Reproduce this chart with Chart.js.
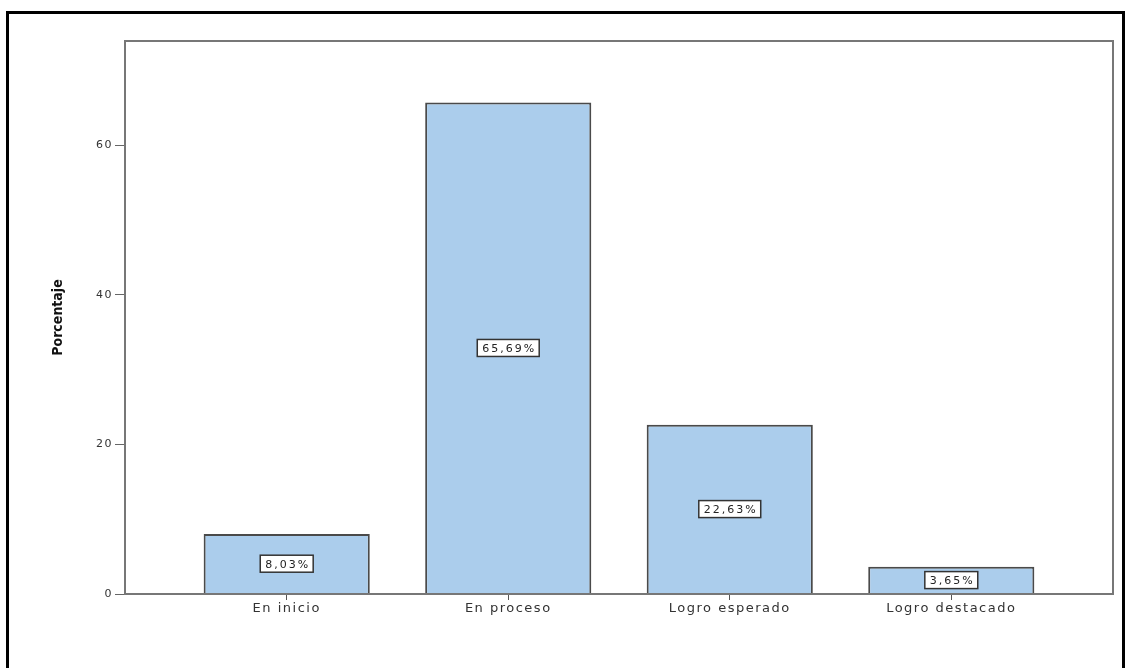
<!DOCTYPE html>
<html>
<head>
<meta charset="utf-8">
<script src="https://cdn.jsdelivr.net/npm/chart.js@4"></script>
<style>
  body { margin: 0; background: #fff; }
  .frame { position: absolute; left: 6px; top: 11px; width: 1119px; height: 700px; border: 3px solid #000; box-sizing: border-box; }
  .wrap { position: absolute; left: 0; top: 0; width: 1134px; height: 668px; }
</style>
</head>
<body>
<div class="frame"></div>
<div class="wrap"><canvas id="chart" width="1134" height="668"></canvas></div>
<script>
const categories = ['En inicio', 'En proceso', 'Logro esperado', 'Logro destacado'];
const percentages = [8.03, 65.69, 22.63, 3.65];
const yTicks = [0, 20, 40, 60];
const yTitle = 'Porcentaje';

// the old SPSS export has wide text
const spacing = {
    id: 'spacing',
    beforeDraw(chart) { chart.ctx.letterSpacing = '1.5px'; }
};

// white boxed value labels in the middle of each bar
const valueLabels = {
    id: 'valueLabels',
    afterDatasetsDraw(chart) {
        const ctx = chart.ctx;
        const meta = chart.getDatasetMeta(0);
        ctx.save();
        ctx.letterSpacing = '2px';
        ctx.font = '11px "DejaVu Sans", sans-serif';
        ctx.textAlign = 'center';
        ctx.textBaseline = 'middle';
        meta.data.forEach((bar, i) => {
            const text = percentages[i].toFixed(2).replace('.', ',') + '%';
            const cy = (bar.y + bar.base) / 2;
            const w = ctx.measureText(text).width + 8;
            const h = 17;
            ctx.fillStyle = '#fff';
            ctx.fillRect(bar.x - w / 2, cy - h / 2, w, h);
            ctx.strokeStyle = '#333';
            ctx.lineWidth = 1.5;
            ctx.strokeRect(bar.x - w / 2, cy - h / 2, w, h);
            ctx.fillStyle = '#222';
            ctx.fillText(text, bar.x + 1, cy + 1);
        });
        ctx.restore();
    }
};

// frame around the plot area + y title (drawn here so it keeps normal spacing)
const plotBorder = {
    id: 'plotBorder',
    afterDraw(chart) {
        const a = chart.chartArea;
        const ctx = chart.ctx;
        ctx.save();
        ctx.strokeStyle = '#777';
        ctx.lineWidth = 2;
        ctx.strokeRect(a.left, a.top, a.right - a.left, a.bottom - a.top);

        ctx.letterSpacing = '0px';
        ctx.translate(58, (a.top + a.bottom) / 2);
        ctx.rotate(-Math.PI / 2);
        ctx.font = 'bold 14px "Liberation Sans Narrow", "DejaVu Sans Condensed", Arial, sans-serif';
        ctx.fillStyle = '#111';
        ctx.textAlign = 'center';
        ctx.textBaseline = 'middle';
        ctx.fillText(yTitle, 0, 0);
        ctx.restore();
    }
};

new Chart(document.getElementById('chart'), {
    type: 'bar',
    data: {
        datasets: [{
            data: percentages.map((v, i) => ({ x: i, y: v })),
            backgroundColor: '#abcdec',
            borderColor: '#4a4a4a',
            borderWidth: 2,
            barPercentage: 0.75,
            categoryPercentage: 1
        }]
    },
    options: {
        responsive: false,
        animation: false,
        layout: { padding: { top: 41, right: 21, left: 0, bottom: 0 } },
        plugins: { legend: { display: false }, tooltip: { enabled: false } },
        scales: {
            x: {
                type: 'linear',
                offset: false,
                min: -0.73,
                max: 3.73,
                afterBuildTicks: s => { s.ticks = categories.map((c, i) => ({ value: i })); },
                afterFit: s => { s.height = 668 - 594; },
                grid: { offset: false, drawOnChartArea: false, tickLength: 6, color: '#555' },
                border: { display: false },
                ticks: {
                    padding: 1,
                    color: '#333',
                    font: { family: '"DejaVu Sans", sans-serif', size: 13 },
                    callback: v => categories[v]
                }
            },
            y: {
                min: 0,
                max: 73.9,
                afterBuildTicks: s => { s.ticks = yTicks.map(v => ({ value: v })); },
                afterFit: s => { s.width = 125; },
                grid: { drawOnChartArea: false, tickLength: 10, color: '#666' },
                border: { display: false },
                ticks: {
                    padding: 2,
                    color: '#333',
                    font: { family: '"DejaVu Sans", sans-serif', size: 11 }
                }
            }
        }
    },
    plugins: [spacing, valueLabels, plotBorder]
});
</script>
</body>
</html>
